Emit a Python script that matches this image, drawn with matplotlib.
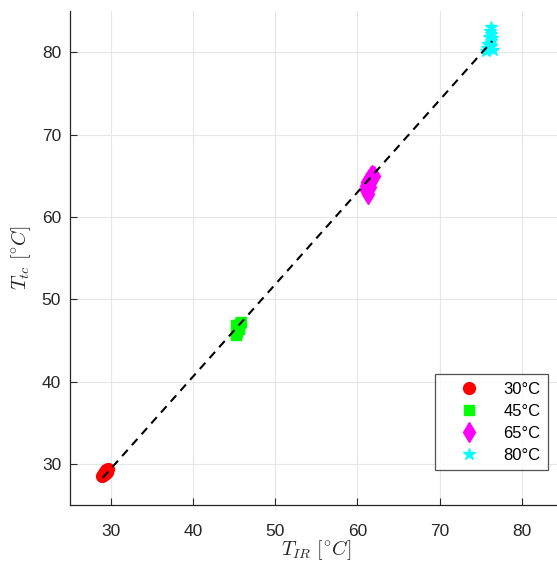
import matplotlib
matplotlib.use("Agg")
import matplotlib.pyplot as plt

# ----------------------------------------------------------------------------
# data (IR camera vs thermocouple temperatures)
# ----------------------------------------------------------------------------
red_ir = [29.0, 29.1, 29.2, 29.3, 29.4, 29.5, 29.6, 29.7, 29.3, 29.5]
red_tc = [28.5, 28.7, 28.9, 29.0, 29.2, 29.3, 29.1, 29.4, 28.8, 29.0]

green_ir = [45.2, 45.3, 45.4, 45.5, 45.6, 45.7, 45.8, 45.4, 45.6, 45.3]
green_tc = [45.6, 45.8, 46.2, 46.5, 46.8, 47.1, 47.2, 46.0, 46.4, 46.9]

mag_ir = [61.3, 61.1, 61.0, 61.2, 61.4, 61.6, 61.8, 62.0, 61.5, 61.7]
mag_tc = [62.8, 63.3, 63.8, 64.2, 64.6, 64.9, 65.1, 65.0, 63.6, 64.4]

cyan_ir = [75.6, 75.8, 76.0, 76.2, 76.4, 76.3, 76.1, 75.9, 76.5, 76.2, 76.0, 76.3]
cyan_tc = [80.1, 80.5, 80.9, 81.3, 81.7, 82.2, 82.6, 81.0, 80.3, 83.0, 81.8, 80.7]

# linear fit endpoints
fit_ir = [29.04, 76.4]
fit_tc = [28.3, 81.35]

labels = ["30°C", "45°C", "65°C", "80°C"]
ticks = [30, 40, 50, 60, 70, 80]

# ----------------------------------------------------------------------------
plt.rcParams["font.family"] = ["Liberation Sans", "DejaVu Sans"]
plt.rcParams["mathtext.fontset"] = "cm"

fig = plt.figure(figsize=(5.57, 5.61), dpi=100)
ax = fig.add_axes([69.5 / 557, 56 / 561, 493.5 / 557, 494 / 561])

dark = "#262626"
ax.plot(red_ir, red_tc, "o", color="red", ms=8.5, ls="none", label=labels[0])
ax.plot(green_ir, green_tc, "s", color="#00ff00", ms=7.2, ls="none", label=labels[1])
ax.plot(mag_ir, mag_tc, "d", color="magenta", ms=10.5, ls="none", label=labels[2])
ax.plot(cyan_ir, cyan_tc, "*", color="cyan", ms=9, ls="none", label=labels[3])
ax.plot(fit_ir, fit_tc, color="black", lw=1.5, ls=(0, (4, 3)), zorder=5)

ax.set_xlim(25, 85)
ax.set_ylim(25, 85)
ax.set_xticks(ticks)
ax.set_yticks(ticks)
ax.grid(True, color="#e6e6e6", lw=0.8)
ax.set_axisbelow(True)

for side in ["top", "right"]:
    ax.spines[side].set_visible(False)
for side in ["left", "bottom"]:
    ax.spines[side].set_color(dark)
    ax.spines[side].set_linewidth(0.9)
ax.tick_params(direction="in", length=5, width=0.8, colors=dark,
               labelsize=12.5, pad=14)
ax.tick_params(axis="y", pad=6)

ax.set_xlabel(r"$T_{IR}\ [^{\circ}C]$", fontsize=14.5, color=dark, labelpad=-1)
ax.set_ylabel(r"$T_{tc}\ [^{\circ}C]$", fontsize=14.5, color=dark, labelpad=6)

leg = ax.legend(loc="lower right", bbox_to_anchor=(548 / 557, 1 - 470 / 561),
                bbox_transform=fig.transFigure,
                fontsize=12, frameon=True, fancybox=False,
                edgecolor=dark, borderpad=0.45, handlelength=3.2,
                handletextpad=0.45, labelspacing=0.42, borderaxespad=0)
leg.get_frame().set_linewidth(0.9)

fig.savefig("out.png", dpi=100)
